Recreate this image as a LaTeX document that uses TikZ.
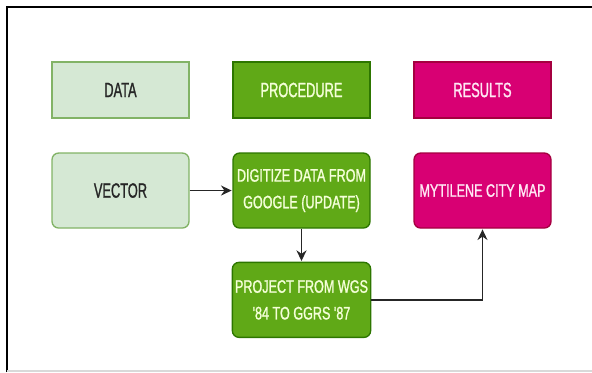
\documentclass[tikz,border=0pt]{standalone}
\usepackage{fontspec}
\newfontfamily\hdfont[FakeStretch=0.62,FakeBold=1.2]{Liberation Sans}
\newfontfamily\bxfont[FakeStretch=0.7,FakeBold=1.2]{Liberation Sans}
\usetikzlibrary{arrows.meta,positioning}
\definecolor{datafill}{HTML}{D5E8D4}
\definecolor{datadraw}{HTML}{82B366}
\definecolor{procfill}{HTML}{60A917}
\definecolor{procdraw}{HTML}{2D7600}
\definecolor{proctext}{HTML}{F4FFD8}
\definecolor{resfill}{HTML}{D80073}
\definecolor{resdraw}{HTML}{A50040}
\definecolor{restext}{HTML}{FFE8F4}
\tikzset{>={Stealth[length=8pt,width=7.5pt]},
  box/.style={draw,line width=1pt,minimum width=102.75pt,align=center,inner sep=2pt},
  head/.style={box,minimum height=42pt,font=\hdfont\fontsize{15.5}{18}\selectfont},
  item/.style={box,rounded corners=5pt,minimum height=56.25pt,font=\bxfont\fontsize{13.5}{20}\selectfont},
  datab/.style={fill=datafill,draw=datadraw,text=black!85},
  procb/.style={fill=procfill,draw=procdraw,text=proctext},
  resb/.style={fill=resfill,draw=resdraw,text=restext},
  flow/.style={->,line width=1.3pt,draw=black!85,shorten >=0.5pt}}

\begin{document}
\begin{tikzpicture}[x=0.75pt,y=-0.75pt,node distance=135.75pt]
              \useasboundingbox (0,0) rectangle (592,372);
              \draw[line width=1.2pt] (7,372) -- (7,7) -- (592,7);
              \draw[black!15,line width=0.8pt] (7,371) -- (592,371);

              \node[head,datab] (data) at (120.5,90) {DATA};
              \node[head,procb] (proc) [right of=data] {PROCEDURE};
              \node[head,resb] (res) [right of=proc] {RESULTS};
              \node[item,datab,font=\hdfont\fontsize{15.5}{18}\selectfont] (vector) [below of=data,node distance=75.4pt] {VECTOR};
              \node[item,procb] (digitize) [right of=vector] {DIGITIZE DATA FROM\\GOOGLE (UPDATE)};
              \node[item,resb] (map) [right of=digitize] {MYTILENE CITY MAP};
              \node[item,procb] (project) [below of=digitize,node distance=82pt] {PROJECT FROM WGS\\'84 TO GGRS '87};

              \path[flow]
              (vector) edge (digitize)
              (digitize) edge (project)
              ;
              \draw[flow] (project) -| (map);
            \end{tikzpicture}
\end{document}
